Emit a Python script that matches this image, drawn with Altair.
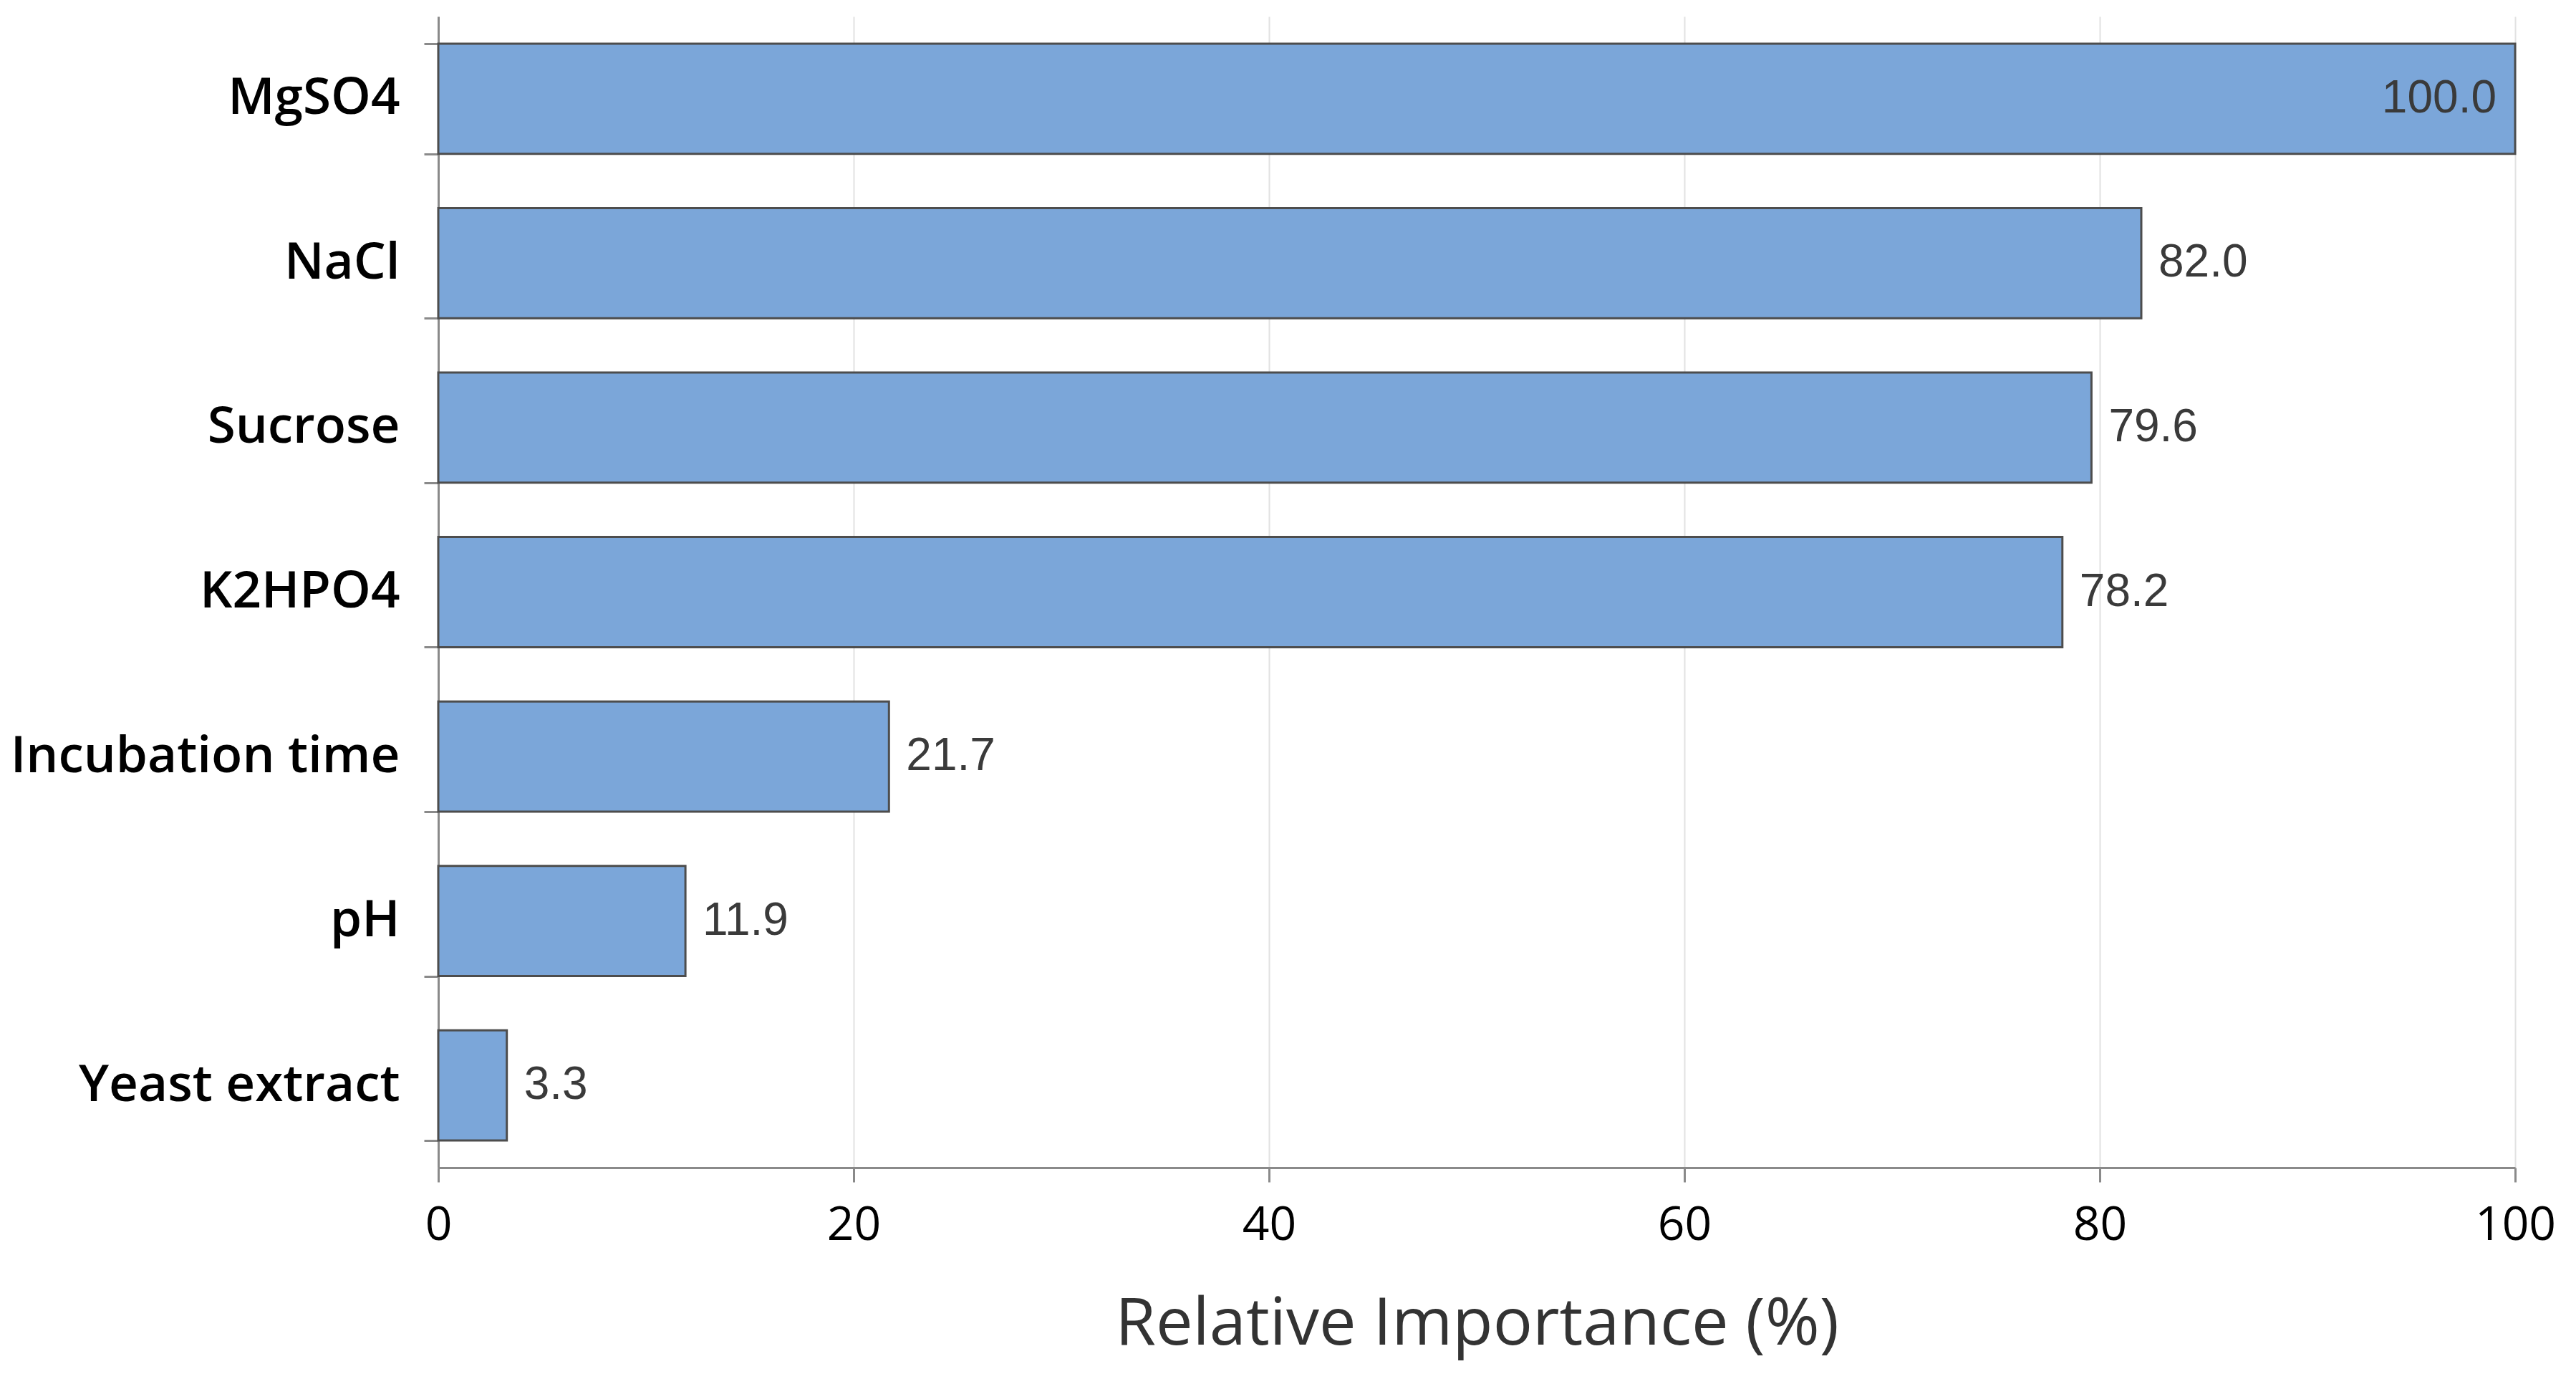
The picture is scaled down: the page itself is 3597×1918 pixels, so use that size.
import altair as alt
import pandas as pd

factors = ["MgSO4", "NaCl", "Sucrose", "K2HPO4", "Incubation time", "pH", "Yeast extract"]
importance = [100.0, 82.0, 79.6, 78.2, 21.7, 11.9, 3.3]
x_ticks = [0, 20, 40, 60, 80, 100]
x_title = "Relative Importance (%)"

df = pd.DataFrame({"factor": factors, "importance": importance})
df["label"] = [f"{v:.1f}" for v in importance]

y_enc = alt.Y(
    "factor:N",
    sort=factors,
    title=None,
    scale=alt.Scale(paddingInner=0.33, paddingOuter=0.165),
    axis=alt.Axis(
        tickBand="extent",
        labelFont="Open Sans",
        labelFontSize=71,
        labelFontWeight=600,
        labelColor="#000000",
        labelPadding=34,
        labelLimit=1000,
        tickSize=20,
        tickColor="#8a8a8a",
        tickWidth=3,
        domainColor="#8a8a8a",
        domainWidth=3,
        grid=False,
    ),
)

x_enc = alt.X(
    "importance:Q",
    scale=alt.Scale(domain=[0, 100], nice=False, zero=True),
    axis=alt.Axis(
        values=x_ticks,
        title=x_title,
        titleFont="Open Sans",
        titleFontSize=92,
        titleFontWeight="normal",
        titleColor="#333333",
        titlePadding=60,
        labelFont="Open Sans",
        labelFontSize=66,
        labelColor="#000000",
        labelPadding=28,
        labelFlush=False,
        labelOverlap=False,
        tickSize=20,
        tickColor="#8a8a8a",
        tickWidth=3,
        domainColor="#8a8a8a",
        domainWidth=3,
        grid=True,
        gridColor="#e2e2e2",
        gridWidth=2,
    ),
)

base = alt.Chart(df)

bars = base.mark_bar(color="#7BA6D9", stroke="#4d4d4d", strokeWidth=3).encode(
    x=x_enc, y=y_enc
)

inside = base.transform_filter("datum.importance >= 95").mark_text(
    align="right", baseline="middle", dx=-26, font="Liberation Sans", fontSize=64, color="#3a3a3a"
).encode(x="importance:Q", y=alt.Y("factor:N", sort=factors), text="label:N")

outside = base.transform_filter("datum.importance < 95").mark_text(
    align="left", baseline="middle", dx=24, font="Liberation Sans", fontSize=64, color="#3a3a3a"
).encode(x="importance:Q", y=alt.Y("factor:N", sort=factors), text="label:N")

chart = (
    alt.layer(bars, inside, outside)
    .properties(
        width=2900,
        height=1607,
        autosize=alt.AutoSizeParams(type="none"),
        padding={"left": 604, "top": 15, "right": 60, "bottom": 284},
        background="white",
    )
    .configure_view(stroke=None)
)

chart.save("out.html", embed_options={"renderer": "svg", "actions": False})
